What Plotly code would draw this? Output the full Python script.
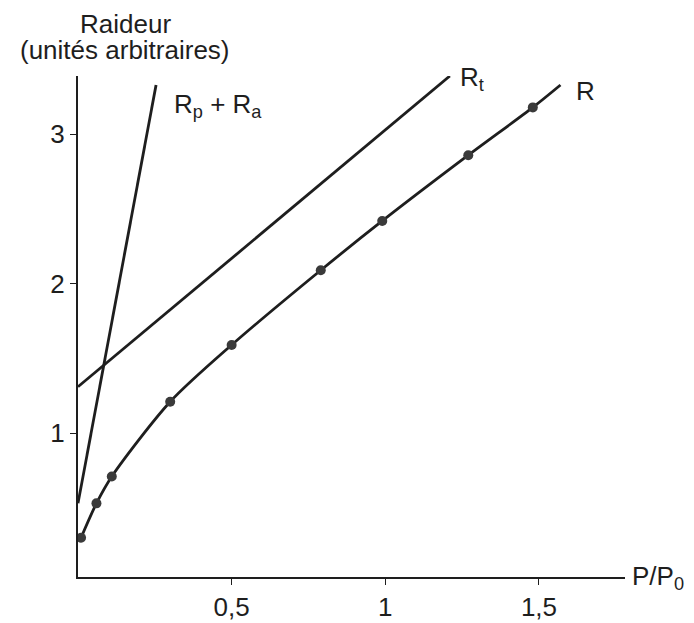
"""
Raideur vs P/P0
---------------
Line chart: measured stiffness R with the two reference lines.
"""

import plotly.graph_objects as go


# ==============================
# Data
# ==============================

r_x = [0.01, 0.06, 0.11, 0.30, 0.50, 0.79, 0.99, 1.27, 1.48]
r_y = [0.30, 0.53, 0.71, 1.21, 1.59, 2.09, 2.42, 2.86, 3.18]

# curve continues a little past the last dot
r_end_x = [1.57]
r_end_y = [3.33]

rt_x = [0.0, 1.21]
rt_y = [1.31, 3.39]

rpa_x = [0.0, 0.254]
rpa_y = [0.53, 3.33]

x_ticks = [0.5, 1, 1.5]
x_labels = ["0,5", "1", "1,5"]
y_ticks = [1, 2, 3]
y_labels = ["1", "2", "3"]

INK = "#1e1e1e"
FONT = "Liberation Sans, Arial, sans-serif"
SIZE = 26


# ==============================
# Figure
# ==============================

fig = go.Figure()

fig.add_trace(go.Scatter(
    x=r_x + r_end_x, y=r_y + r_end_y,
    mode="lines", line=dict(color=INK, width=2.8, shape="spline", smoothing=0.8),
    hoverinfo="skip",
))

fig.add_trace(go.Scatter(
    x=r_x, y=r_y, mode="markers",
    marker=dict(color="#3a3a3a", size=10),
))

fig.add_trace(go.Scatter(x=rt_x, y=rt_y, mode="lines", line=dict(color=INK, width=2.8)))
fig.add_trace(go.Scatter(x=rpa_x, y=rpa_y, mode="lines", line=dict(color=INK, width=2.8)))

# curve labels inside the plot area (data coords)
labels = [
    (0.305, 3.19, "R<sub>p</sub> + R<sub>a</sub>"),
    (1.235, 3.37, "R<sub>t</sub>"),
    (1.615, 3.29, "R"),
]
for x, y, text in labels:
    fig.add_annotation(
        x=x, y=y, xref="x", yref="y", text=text, showarrow=False,
        xanchor="left", yanchor="middle",
        font=dict(family=FONT, size=SIZE, color=INK),
    )

# axis titles, outside the plot area (paper coords)
# y title as two annotations: tighter line spacing than <br>
for y, text in [(1.104, "Raideur"), (1.052, "(unités arbitraires)")]:
    fig.add_annotation(
        x=0.086, y=y, xref="paper", yref="paper",
        text=text, showarrow=False,
        xanchor="center", yanchor="middle",
        font=dict(family=FONT, size=SIZE, color=INK),
    )
fig.add_annotation(
    x=1.009, y=0.0, xref="paper", yref="paper",
    text="P/P<sub>0</sub>", showarrow=False,
    xanchor="left", yanchor="middle",
    font=dict(family=FONT, size=SIZE, color=INK),
)

# the page adds an 8px body margin, so the figure is 8px smaller
fig.update_layout(
    width=686, height=615,
    margin=dict(l=70, r=69, t=68, b=46),
    plot_bgcolor="white", paper_bgcolor="white",
    showlegend=False,
    font=dict(family=FONT, size=SIZE, color=INK),
)

fig.update_xaxes(
    range=[0, 1.78], showgrid=False, zeroline=False, automargin=False,
    showline=True, linecolor=INK, linewidth=2,
    tickmode="array", tickvals=x_ticks, ticktext=x_labels,
    ticks="outside", ticklen=6, tickcolor=INK,
)
fig.update_yaxes(
    range=[0.037, 3.39], showgrid=False, zeroline=False, automargin=False,
    showline=True, linecolor=INK, linewidth=2,
    tickmode="array", tickvals=y_ticks, ticktext=y_labels,
    ticks="outside", ticklen=6, tickcolor=INK,
)

fig.write_html("out.html")
